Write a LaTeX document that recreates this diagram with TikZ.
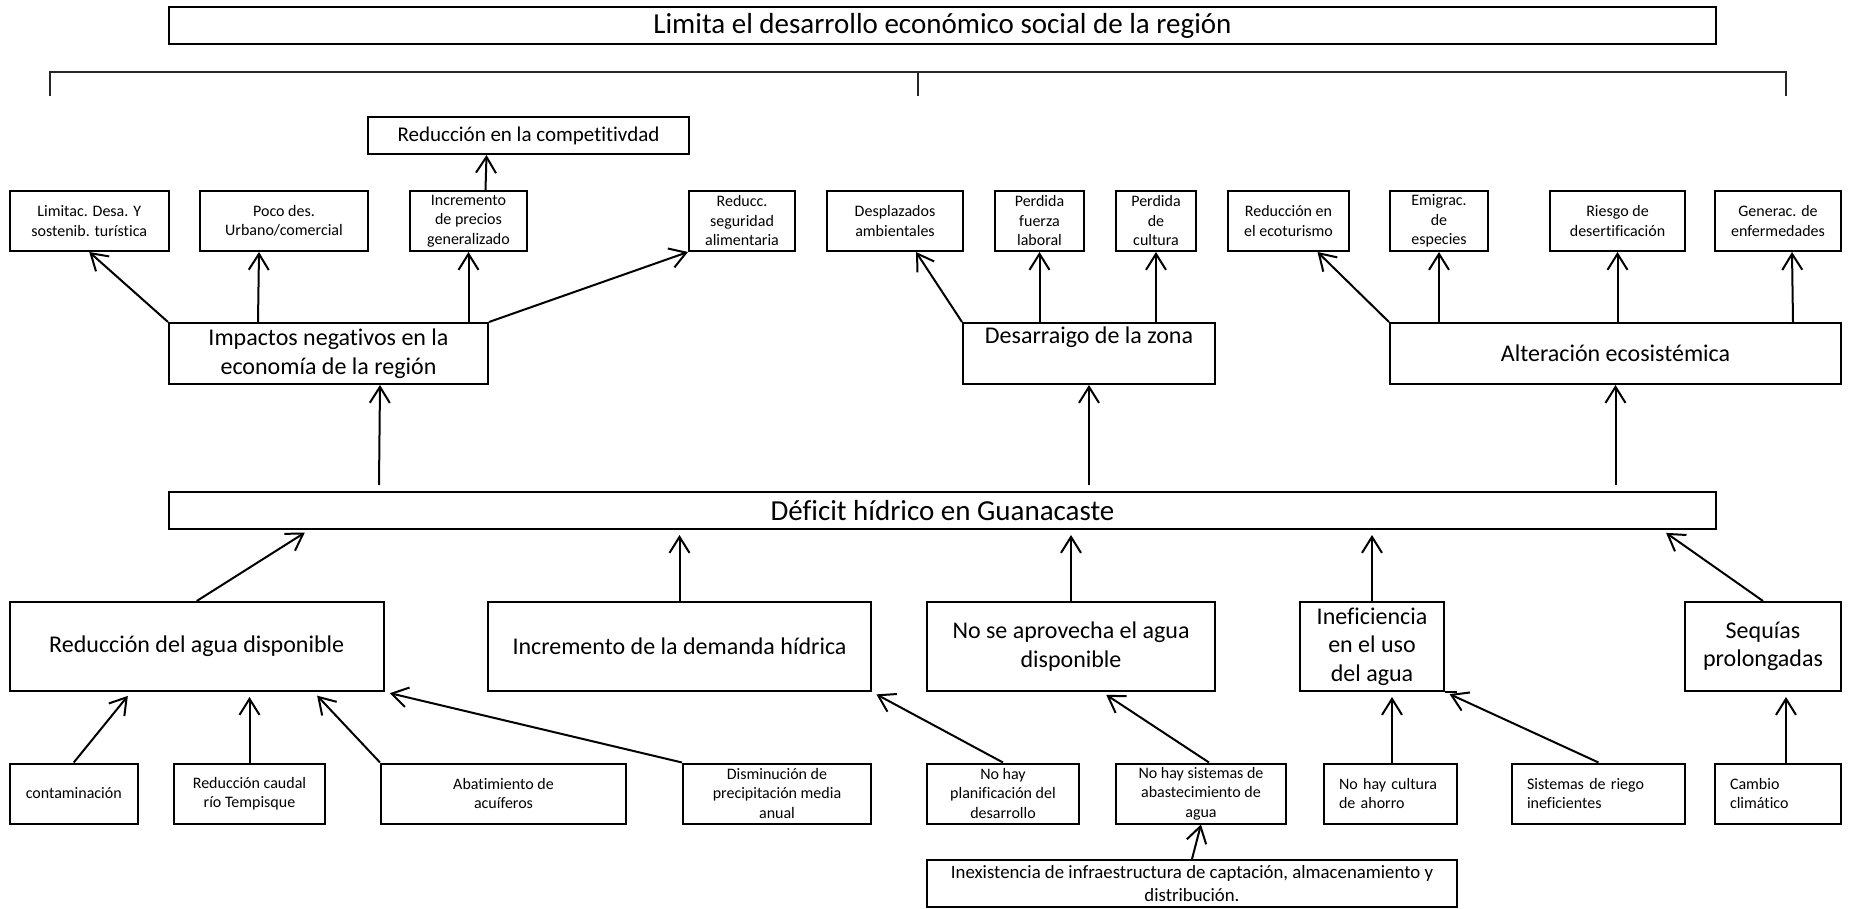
\documentclass[tikz,border=0pt]{standalone}
\usepackage{fontspec}
\setmainfont{Carlito}[Ligatures=NoCommon, Contextuals=NoAlternate]
\usepackage{tikz}
\usetikzlibrary{arrows.meta, calc}

\begin{document}
\begin{tikzpicture}[x=0.5pt, y=-0.5pt,
    box/.style={draw, line width=1pt, rectangle, inner sep=0pt, align=center},
    big/.style={box, font=\fontsize{14.5}{17}\selectfont},
    mid/.style={box, font=\fontsize{12}{14.3}\selectfont},
    sbox/.style={box, minimum height=30pt, font=\fontsize{8}{9.75}\selectfont},
    lbox/.style={sbox, align=left, inner xsep=7.5pt},
    arr/.style={line width=1pt, -{Straight Barb[length=8pt, width=10pt]}},
    gap/.style={shorten >=2.5pt}]
    \useasboundingbox (0,0) rectangle (1849,909);

    % Top: consequence and bracket
    \node[big, minimum width=773.5pt, minimum height=18.5pt] (limita) at (942.5,25.5)
        {Limita el desarrollo económico social de la región};
    \draw[line width=1pt, black!85] (50,96) -- (50,72) -- (1786,72) -- (1786,96);
    \draw[line width=1pt, black!85] (918,72) -- (918,96);

    \node[box, font=\fontsize{10.5}{12.5}\selectfont, minimum width=160.5pt, minimum height=18.5pt]
        (compet) at (528.5,135.5) {Reducción en la competitivdad};

    % Effects (small boxes)
    \node[sbox, minimum width=79.75pt] (limitac) at (89.25,221) {Limitac. Desa. Y\\sostenib. turística};
    \node[sbox, minimum width=84pt]    (poco)    at (284,221)   {Poco des.\\Urbano/comercial};
    \node[sbox, minimum width=58.5pt]  (precios) at (468.5,221) {Incremento\\de precios\\generalizado};
    \node[sbox, minimum width=53pt]    (segur)   at (742,221)   {Reducc.\\seguridad\\alimentaria};
    \node[sbox, minimum width=68pt]    (despl)   at (895,221)   {Desplazados\\ambientales};
    \node[sbox, minimum width=44.5pt]  (fuerza)  at (1039.5,221) {Perdida\\fuerza\\laboral};
    \node[sbox, minimum width=40pt]    (cultura) at (1156,221)  {Perdida\\de\\cultura};
    \node[sbox, minimum width=60.5pt]  (ecotur)  at (1288.5,221) {Reducción en\\el ecoturismo};
    \node[sbox, minimum width=49pt]    (emigrac) at (1439,221)  {Emigrac.\\de\\especies};
    \node[sbox, minimum width=67.5pt]  (riesgo)  at (1617.5,221) {Riesgo de\\desertificación};
    \node[sbox, minimum width=63pt]    (enferm)  at (1778,221)  {Generac. de\\enfermedades};

    % Effects (main)
    \node[mid, minimum width=159.5pt, minimum height=30.5pt] (impactos) at (328.5,353.5)
        {Impactos negativos en la\\economía de la región};
    \node[mid, minimum width=126pt, minimum height=30.5pt] (desarr) at (1089,353.5)
        {Desarraigo de la zona\\\strut};
    \node[mid, minimum width=225.5pt, minimum height=30.5pt] (alter) at (1615.5,353.5)
        {Alteración ecosistémica};

    % Central problem
    \node[big, minimum width=773.5pt, minimum height=18.5pt] (deficit) at (942.5,510.5)
        {Déficit hídrico en Guanacaste};

    % Causes
    \node[mid, minimum width=187.25pt, minimum height=44.5pt] (redagua) at (196.75,646.5)
        {Reducción del agua disponible};
    \node[mid, minimum width=191.5pt, minimum height=44.5pt] (incdem) at (679.5,646.5)
        {Incremento de la demanda hídrica};
    \node[mid, minimum width=144pt, minimum height=44.5pt] (noaprov) at (1071,646.5)
        {No se aprovecha el agua\\disponible};
    \node[mid, minimum width=72pt, minimum height=44.5pt] (inef) at (1372,646.5)
        {Ineficiencia\\en el uso\\del agua};
    \node[mid, minimum width=78pt, minimum height=44.5pt] (sequias) at (1763,646.5)
        {Sequías\\prolongadas};
    \draw[line width=1pt] (inef.south east) -- ++(12,0);

    % Root causes
    \node[sbox, minimum width=64.25pt] (contam)   at (73.75,793.5) {contaminación};
    \node[sbox, minimum width=75.5pt]  (caudal)   at (249.5,793.5) {Reducción caudal\\río Tempisque};
    \node[sbox, minimum width=122.5pt] (abat)     at (503.5,793.5) {Abatimiento de\\acuíferos};
    \node[sbox, minimum width=94pt]    (dismin)   at (777,793.5)   {Disminución de\\precipitación media\\anual};
    \node[sbox, minimum width=76pt]    (planif)   at (1003,793.5)  {No hay\\planificación del\\desarrollo};
    \node[sbox, minimum width=85pt]    (sistemas) at (1201,793.5)  {No hay sistemas de\\abastecimiento de\\agua};
    \node[lbox, text width=51.5pt]     (ahorro)   at (1390.5,793.5) {No hay cultura\\de ahorro};
    \node[lbox, text width=71.5pt]     (riego)    at (1598.5,793.5) {Sistemas de riego\\ineficientes};
    \node[lbox, text width=48pt]       (cambio)   at (1778,793.5)  {Cambio\\climático};
    \node[box, font=\fontsize{9.4}{11.8}\selectfont, minimum width=265pt, minimum height=23.5pt]
        (inexist) at (1192,883.5)
        {Inexistencia de infraestructura de captación, almacenamiento y\\distribución.};

    % Arrows: effects
    \draw[arr] (impactos.north west) -- (limitac.south);
    \draw[arr] ($(impactos.north west)+(90,0)$) -- ($(poco.south)+(-25,0)$);
    \draw[arr] (precios.south |- impactos.north) -- (precios.south);
    \draw[arr] ($(precios.north)+(17,0)$) -- ($(compet.south)+(-42,0)$);
    \draw[arr] (impactos.north east) -- (segur.south west);
    \draw[arr] (desarr.north west) -- ($(despl.south)+(21,0)$);
    \draw[arr] (fuerza.south |- desarr.north) -- (fuerza.south);
    \draw[arr] (cultura.south |- desarr.north) -- (cultura.south);
    \draw[arr] (alter.north west) -- ($(ecotur.south)+(29,0)$);
    \draw[arr] (emigrac.south |- alter.north) -- (emigrac.south);
    \draw[arr] (riesgo.south |- alter.north) -- (riesgo.south);
    \draw[arr] ($(alter.north east)+(-49,0)$) -- ($(enferm.south)+(14,0)$);

    % Arrows: problem to effects
    \draw[arr] ($(deficit.north west)+(211,-6)$) -- ($(impactos.south)+(51.5,0)$);
    \draw[arr] ($(deficit.north -| desarr.south)+(0,-6)$) -- (desarr.south);
    \draw[arr] ($(deficit.north -| alter.south)+(0,-6)$) -- (alter.south);

    % Arrows: causes to problem
    \draw[arr, gap] (redagua.north) -- ($(deficit.south west)+(141,0)$);
    \draw[arr, gap] (incdem.north) -- (incdem.north |- deficit.south);
    \draw[arr, gap] (noaprov.north) -- (noaprov.north |- deficit.south);
    \draw[arr, gap] (inef.north) -- (inef.north |- deficit.south);
    \draw[arr, gap] (sequias.north) -- ($(deficit.south east)+(-55,0)$);

    % Arrows: root causes
    \draw[arr, gap] (contam.north) -- ($(redagua.south west)+(122.5,0)$);
    \draw[arr, gap] (caudal.north) -- (caudal.north |- redagua.south);
    \draw[arr, gap] (abat.north west) -- ($(redagua.south)+(117,0)$);
    \draw[arr, gap] (dismin.north west) -- (redagua.south east);
    \draw[arr, gap] (planif.north) -- (incdem.south east);
    \draw[arr, gap] ($(sistemas.north)+(8,0)$) -- ($(noaprov.south)+(31,0)$);
    \draw[arr, gap] ($(ahorro.north)+(1.5,0)$) -- ($(inef.south)+(20,0)$);
    \draw[arr, gap] (riego.north) -- (inef.south east);
    \draw[arr, gap] ($(cambio.north)+(8,0)$) -- ($(sequias.south)+(23,0)$);
    \draw[arr] (inexist.north) -- (sistemas.south);
\end{tikzpicture}
\end{document}
